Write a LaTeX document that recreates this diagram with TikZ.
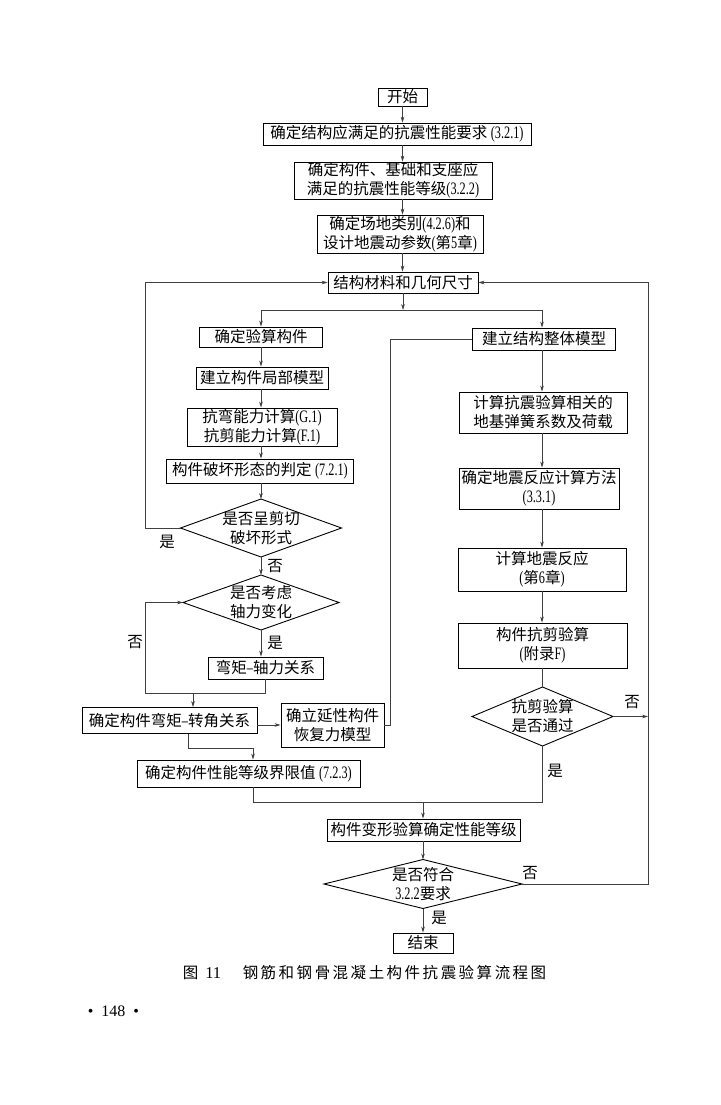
\documentclass[tikz,border=0pt]{standalone}
\usepackage{fontspec}
\setmainfont{Noto Sans CJK SC}
\newfontfamily\lat[FakeStretch=0.7]{Liberation Serif}
\newfontfamily\latn{Liberation Serif}
\newcommand\LL[1]{{\lat\fontsize{17.5}{19}\selectfont #1}}
\newcommand\lsp{\kern2.5pt}
\usetikzlibrary{arrows.meta}
\newcommand\Dia[6]{%
  \node[lbl] (#1) at (#2,#3) {#6};
  \coordinate (#1-n) at ({#2},{#3-#5/2});
  \coordinate (#1-s) at ({#2},{#3+#5/2});
  \coordinate (#1-w) at ({#2-#4/2},{#3});
  \coordinate (#1-e) at ({#2+#4/2},{#3});
  \draw[dline] (#1-n) -- (#1-e) -- (#1-s) -- (#1-w) -- cycle;
}
\begin{document}
\begin{tikzpicture}[x=1pt,y=-1pt,
  box/.style={draw=black, line width=0.9pt, inner sep=0pt, align=center, font=\fontsize{15.5}{19}\selectfont},
  lbl/.style={inner sep=0pt, align=center, font=\fontsize{15.5}{19}\selectfont},
  dline/.style={draw=black, line width=0.9pt},
  con/.style={draw=black!75, line width=0.6pt},
  arr/.style={con, -{Stealth[length=6pt,width=3.6pt]}},
]
\useasboundingbox (0,0) rectangle (720,1105);
\fill[white] (0,0) rectangle (720,1105);

% column coordinates
\coordinate (lx) at (145,0);
\coordinate (rx) at (648,0);
\coordinate (lc) at (261,0);
\coordinate (rc) at (542,0);

% top chain
\node[box, minimum width=49pt, minimum height=18pt] (start) at (402.5,97) {开始};
\node[box, minimum width=268pt, minimum height=22pt] (req) at (397,134) {确定结构应满足的抗震性能要求 \LL{(3.2.1)}};
\node[box, minimum width=198pt, minimum height=37pt] (lev) at (393,180.5) {确定构件、基础和支座应\\满足的抗震性能等级\LL{(3.2.2)}};
\node[box, minimum width=166pt, minimum height=38pt] (site) at (400,234) {确定场地类别\LL{(4.2.6)}和\\设计地震动参数\LL{(}第\LL{5}章\LL{)}};
\node[box, minimum width=150pt, minimum height=21pt] (mat) at (403,282.5) {结构材料和几何尺寸};

% left column
\node[box, minimum width=123pt, minimum height=20pt] (chk) at (261,337) {确定验算构件};
\node[box, minimum width=132pt, minimum height=22pt] (local) at (262,378) {建立构件局部模型};
\node[box, minimum width=150pt, minimum height=38pt] (cap) at (262,427) {抗弯能力计算\LL{(G.1)}\\抗剪能力计算\LL{(F.1)}};
\node[box, minimum width=187pt, minimum height=24pt] (fail) at (260,471) {构件破坏形态的判定 \LL{(7.2.1)}};
\Dia{d1}{261}{528}{161}{58}{是否呈剪切\\破坏形式}
\Dia{d2}{261}{602.5}{156}{55}{是否考虑\\轴力变化}
\node[box, minimum width=115pt, minimum height=22pt] (mn) at (265.5,668) {弯矩\LL{–}轴力关系};
\node[box, minimum width=175pt, minimum height=26pt] (mr) at (169.5,720.5) {确定构件弯矩\LL{–}转角关系};
\node[box, minimum width=103pt, minimum height=44pt] (hy) at (332.5,725) {确立延性构件\\恢复力模型};
\node[box, minimum width=223pt, minimum height=27pt] (lim) at (248.5,773.5) {确定构件性能等级界限值 \LL{(7.2.3)}};

% right column
\node[box, minimum width=143pt, minimum height=22pt] (glob) at (544,339) {建立结构整体模型};
\node[box, minimum width=168pt, minimum height=41pt] (spr) at (543,412.5) {计算抗震验算相关的\\地基弹簧系数及荷载};
\node[box, minimum width=160pt, minimum height=41pt] (meth) at (539,488.5) {确定地震反应计算方法\\\LL{(3.3.1)}};
\node[box, minimum width=168pt, minimum height=43pt] (resp) at (542,569.5) {计算地震反应\\\LL{(}第\LL{6}章\LL{)}};
\node[box, minimum width=169pt, minimum height=45pt] (shr) at (542.5,645.5) {构件抗剪验算\\\LL{(}附录\LL{F)}};
\Dia{d3}{542.5}{716.5}{141}{59}{抗剪验算\\是否通过}

% bottom
\node[box, minimum width=193pt, minimum height=22pt] (def) at (423.5,830) {构件变形验算确定性能等级};
\Dia{d4}{423}{884}{198}{49}{是否符合\\\LL{3.2.2}要求}
\node[box, minimum width=60pt, minimum height=20pt] (end) at (423,943) {结束};

% connectors: top chain
\draw[arr] (start.south) -- (start.south |- req.north);
\draw[arr] (req.south -| start.south) -- (lev.north -| start.south);
\draw[arr] (lev.south -| start.south) -- (site.north -| start.south);
\draw[arr] (site.south -| start.south) -- (mat.north -| start.south);

% split
\coordinate (jm) at (403,310);
\draw[arr] (mat.south -| jm) -- (jm);
\draw[arr] (jm) -| (chk.north -| lc);
\draw[arr] (jm) -| (glob.north -| rc);

% left column chain
\draw[arr] (chk.south -| lc) -- (local.north -| lc);
\draw[arr] (local.south -| lc) -- (cap.north -| lc);
\draw[arr] (cap.south -| lc) -- (fail.north -| lc);
\draw[arr] (fail.south -| lc) -- (d1-n);
\draw[arr] (d1-w) -- (d1-w -| lx) |- (mat.west);
\node[lbl] (y1) at (167,542) {是};
\draw[arr] (d1-s) -- (d2-n);
\node[lbl] (n1) at (275,566) {否};
\draw[arr] (d2-s) -- (d2-s |- mn.north);
\node[lbl] (y2) at (275,643) {是};
\coordinate (j2) at (145,693);
\draw[arr] (mn.south) |- (j2) |- (d2-w);
\node[lbl] (n2) at (135,642) {否};
\coordinate (j3) at (193,693);
\draw[arr] (j3) -- (j3 |- mr.north);
\draw[arr] (mr.east |- hy.west) -- (hy.west);
\draw[con] (hy.east) -- ++(6,0) |- (glob.west);
\coordinate (c188) at (188,748);
\coordinate (c253) at (253,0);
\draw[arr] (mr.south -| c188) -- (c188) -| (lim.north -| c253);
\coordinate (jb) at (423,802);
\coordinate (jb2) at (542.5,802);
\draw[con] (lim.south -| c253) |- (jb2) -- (d3-s);
\draw[arr] (jb) -- (def.north -| jb);

% right column chain
\draw[arr] (glob.south -| rc) -- (spr.north -| rc);
\draw[arr] (spr.south -| rc) -- (meth.north -| rc);
\draw[arr] (meth.south -| rc) -- (resp.north -| rc);
\draw[arr] (resp.south -| rc) -- (shr.north -| rc);
\draw[con] (shr.south -| d3-n) -- (d3-n);
\draw[arr] (d3-e) -- (d3-e -| rx);
\node[lbl] (n3) at (632,702) {否};
\node[lbl] (y3) at (555,771) {是};

% bottom chain
\draw[arr] (def.south -| d4-n) -- (d4-n);
\draw[arr] (d4-s) -- (end.north -| d4-s);
\node[lbl] (y4) at (439,918) {是};
\draw[arr] (d4-e) -- (d4-e -| rx) |- (mat.east);
\node[lbl] (n4) at (530,873) {否};

% caption
\node[lbl] (fig) at (202,973) {图\kern7pt{\latn\fontsize{16.5}{19}\selectfont 11}};
\node[lbl] (title) at (394.5,973) {钢\lsp{}筋\lsp{}和\lsp{}钢\lsp{}骨\lsp{}混\lsp{}凝\lsp{}土\lsp{}构\lsp{}件\lsp{}抗\lsp{}震\lsp{}验\lsp{}算\lsp{}流\lsp{}程\lsp{}图};
\node[inner sep=0pt, font=\latn\fontsize{16}{18}\selectfont] (pg) at (113.5,1011) {•\kern8pt148\kern8pt•};
\end{tikzpicture}
\end{document}
